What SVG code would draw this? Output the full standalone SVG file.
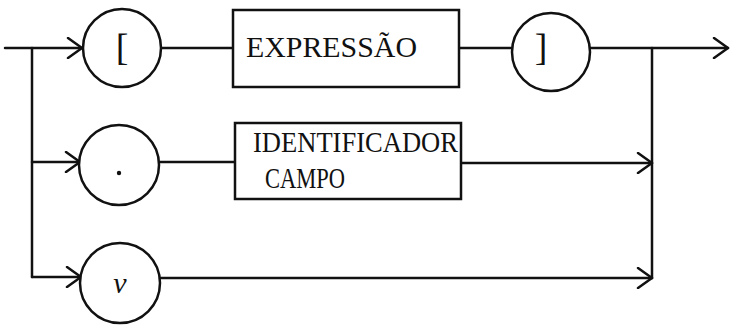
<svg xmlns="http://www.w3.org/2000/svg" width="730" height="326" viewBox="0 0 730 326">
<defs>
<style>
.ln{fill:none;stroke:#111;stroke-width:2.5;stroke-linecap:round;stroke-linejoin:round}
.nd{fill:#fff;stroke:#111;stroke-width:2.5}
.tx{font-family:"Liberation Serif","DejaVu Serif",serif;fill:#111}
</style>
<marker id="ah" markerWidth="22" markerHeight="22" refX="18" refY="11" orient="auto" markerUnits="userSpaceOnUse">
<path d="M4,1 L18,11 L4,21" fill="none" stroke="#111" stroke-width="2.5" stroke-linecap="round" stroke-linejoin="round"/>
</marker>
</defs>
<g id="connectors">
<path class="ln" d="M5,48 H82" marker-end="url(#ah)"/>
<path class="ln" d="M32,48 V277"/>
<path class="ln" d="M32,162 H80" marker-end="url(#ah)"/>
<path class="ln" d="M32,277 H81" marker-end="url(#ah)"/>
<path class="ln" d="M161,48 H233"/>
<path class="ln" d="M459,48 H512"/>
<path class="ln" d="M590,48 H728" marker-end="url(#ah)"/>
<path class="ln" d="M652,48 V278"/>
<path class="ln" d="M159,162 H235"/>
<path class="ln" d="M461,163 H652" marker-end="url(#ah)"/>
<path class="ln" d="M160,278 H652" marker-end="url(#ah)"/>
</g>
<g id="node-lbracket">
<circle class="nd" cx="122" cy="48" r="39"/>
<text class="tx" x="122" y="60" font-size="38" text-anchor="middle">[</text>
</g>
<g id="node-expressao">
<rect class="nd" x="233" y="10" width="226" height="77"/>
<text class="tx" x="246" y="57" font-size="30" textLength="171" lengthAdjust="spacingAndGlyphs">EXPRESSÃO</text>
</g>
<g id="node-rbracket">
<circle class="nd" cx="551" cy="52" r="39"/>
<text class="tx" x="541" y="60" font-size="38" text-anchor="middle">]</text>
</g>
<g id="node-dot">
<circle class="nd" cx="119" cy="165" r="40"/>
<circle cx="119" cy="173" r="2.2" fill="#111"/>
</g>
<g id="node-identificador">
<rect class="nd" x="235" y="123" width="226" height="76"/>
<text class="tx" x="253" y="152" font-size="29" textLength="205" lengthAdjust="spacingAndGlyphs">IDENTIFICADOR</text>
<text class="tx" x="265" y="188" font-size="29" textLength="80" lengthAdjust="spacingAndGlyphs">CAMPO</text>
</g>
<g id="node-v">
<circle class="nd" cx="120" cy="283" r="40"/>
<text class="tx" x="120" y="293" font-size="30" font-style="italic" text-anchor="middle">v</text>
</g>
</svg>
